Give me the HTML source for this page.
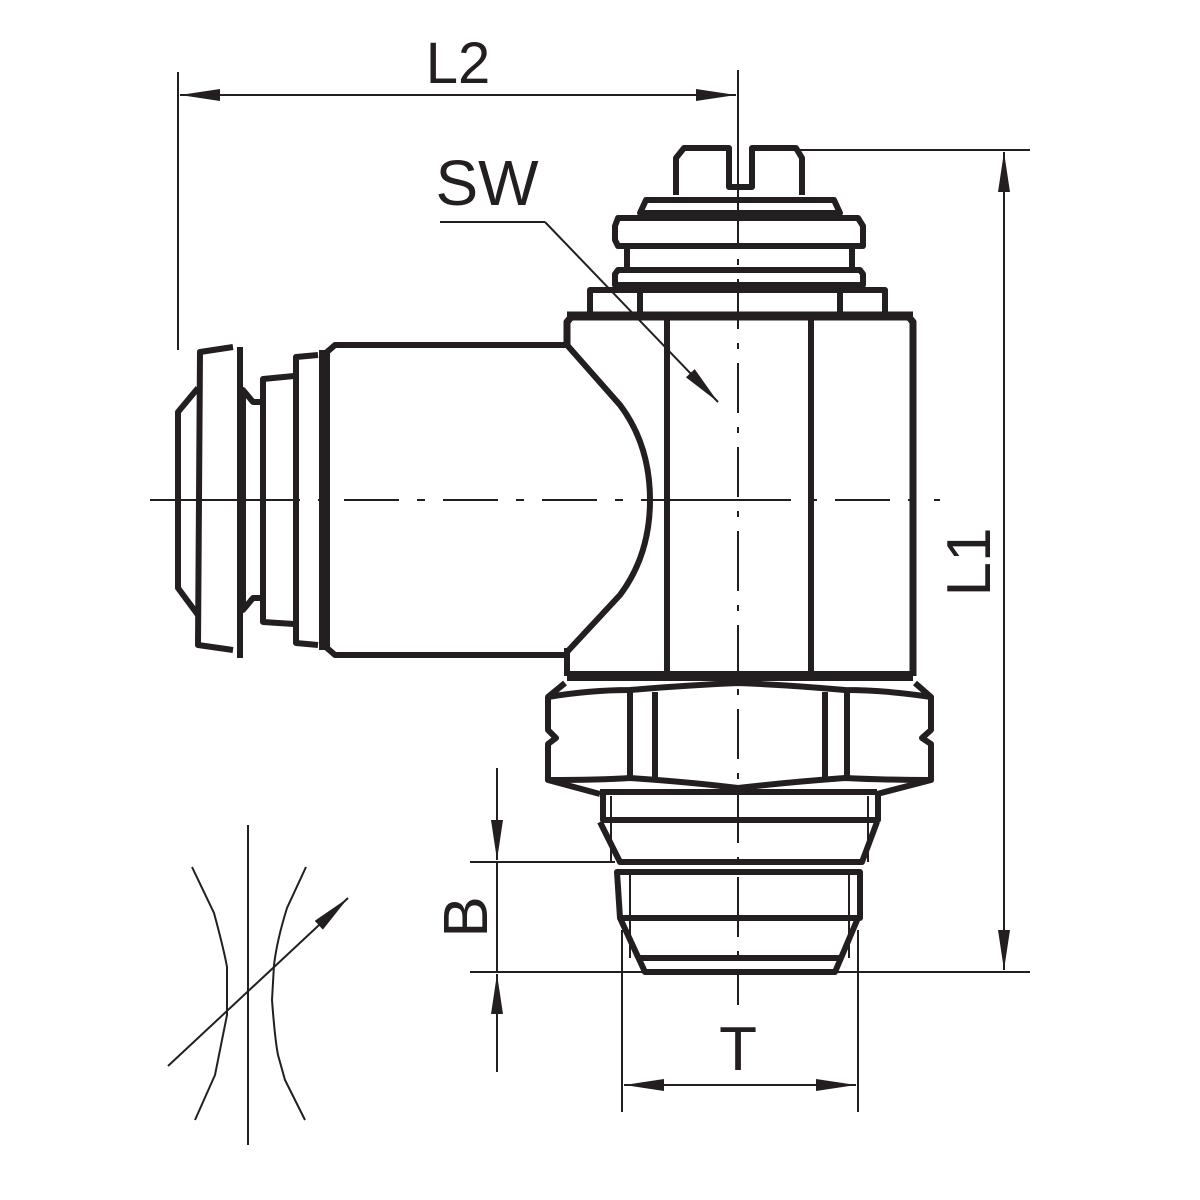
<!DOCTYPE html>
<html><head><meta charset="utf-8"><style>html,body{margin:0;padding:0;background:#fff}svg{display:block}</style></head>
<body>
<svg width="1200" height="1200" viewBox="0 0 1200 1200" xmlns="http://www.w3.org/2000/svg">
<defs>
<marker id="a" viewBox="0 0 40 12" refX="40" refY="6" markerWidth="40" markerHeight="12" markerUnits="userSpaceOnUse" orient="auto-start-reverse"><path d="M0,0 L40,6 L0,12 Z" fill="#231f20"/></marker>
</defs>
<g fill="none" stroke="#231f20">
<g stroke-width="2">
<line x1="178" y1="72" x2="178" y2="350"/>
<line x1="738" y1="70" x2="738" y2="185"/>
<line x1="180" y1="95" x2="736" y2="95" marker-start="url(#a)" marker-end="url(#a)"/>
<line x1="800" y1="150" x2="1030" y2="150"/>
<line x1="1004" y1="152" x2="1004" y2="970" marker-start="url(#a)" marker-end="url(#a)"/>
<line x1="470" y1="862" x2="615" y2="862"/>
<line x1="470" y1="972" x2="1030" y2="972"/>
<line x1="497" y1="768" x2="497" y2="860" marker-end="url(#a)"/>
<line x1="497" y1="862" x2="497" y2="972"/>
<line x1="497" y1="1072" x2="497" y2="974" marker-end="url(#a)"/>
<line x1="622" y1="930" x2="622" y2="1112"/>
<line x1="858" y1="930" x2="858" y2="1112"/>
<line x1="624" y1="1085" x2="856" y2="1085" marker-start="url(#a)" marker-end="url(#a)"/>
<polyline points="440,222 545,222"/>
<line x1="545" y1="222" x2="718" y2="402" marker-end="url(#a)"/>
<line x1="150" y1="500" x2="940" y2="500" stroke-dasharray="150,18,8,18,55,18,8,18,55,18,8,18,55,18,8,18"/>
<line x1="738" y1="185" x2="738" y2="1005" stroke-dasharray="60,14,6,14,50,14,6,14,50,14,6,14,50,14,6,14"/>
<line x1="248" y1="825" x2="248" y2="1145"/>
<path d="M192,867 L214,913 Q224,950 227,967 L227,1015 Q220,1050 215,1075 L195,1120"/>
<path d="M306,867 L287,908 Q277,940 274,965 L272,1000 Q275,1040 278,1055 L285,1080 L305,1120"/>
<line x1="168" y1="1066" x2="348" y2="898" marker-end="url(#a)"/>
</g>
<g stroke-width="6" stroke-linejoin="round">
<path d="M676,195 L676,158 L684,148 L729,148 L729,187 L752,187 L752,148 L796,148 L802,158 L802,195"/>
<path d="M640,213 L646,200 L834,200 L840,213 Z"/>
<path d="M618,218 L858,218 L863,226 L863,246 L618,246 L615,240 L615,226 Z"/>
<line x1="627" y1="248" x2="627" y2="270"/><line x1="852" y1="248" x2="852" y2="270"/>
<path d="M618,270 L860,270 L863,274 L863,285 L615,285 L615,274 Z"/>
<path d="M590,312 L590,290 L885,290 L885,312"/>
<line x1="640" y1="290" x2="640" y2="312"/><line x1="840" y1="290" x2="840" y2="312"/>
<path d="M567,345 L567,322 L572,316 L908,316 L913,322 L913,676" stroke-width="7"/>
<line x1="567" y1="316" x2="913" y2="316" stroke-width="9"/>
<line x1="667" y1="320" x2="667" y2="675"/>
<line x1="811" y1="320" x2="811" y2="675"/>
<path d="M567,345 L620,405 Q650,445 650,500 Q650,555 620,595 L567,652"/>
<line x1="567" y1="648" x2="567" y2="676"/>
<path d="M567,345 L335,345 L327,352 L327,648 L335,655 L567,655"/>
<line x1="323" y1="350" x2="323" y2="650" stroke-width="8"/>
<path d="M318,355 L296,357 L296,643 L318,645"/>
<path d="M294,376 L263,379 L263,622 L294,624"/>
<path d="M261,402 L253,402 L243,390 L243,610 L253,598 L261,598"/>
<path d="M240,347 L240,658"/>
<path d="M233,347 L200,352 L198,645 L233,650"/>
<path d="M198,388 L178,412 L178,588 L198,615"/>
<path d="M567,676 L913,676" stroke-width="10"/>
<path d="M565,683 L548,697 L548,730 L556,738 L548,744 L548,780 L600,794"/>
<path d="M915,683 L931,697 L931,730 L922,738 L931,744 L931,780 L877,794"/>
<path d="M548,697 Q590,690 630,690 Q690,685 738,683 Q790,685 845,690 Q885,690 931,697"/>
<path d="M548,780 Q600,780 630,778 Q690,782 738,788 Q790,782 845,778 Q885,780 931,780"/>
<line x1="630" y1="692" x2="630" y2="780"/><line x1="655" y1="692" x2="655" y2="780"/>
<line x1="825" y1="692" x2="825" y2="780"/><line x1="847" y1="692" x2="847" y2="780"/>
<path d="M600,792 L877,792"/>
<path d="M603,794 L603,820 L878,820 L878,794"/>
<path d="M600,822 L620,862 L862,862 L877,822"/>
<path d="M617,872 L620,918 L860,918 L860,872 Z"/>
<path d="M620,918 L645,972 L835,972 L858,918"/>
<line x1="640" y1="958" x2="840" y2="958"/>
</g>
<g stroke-width="2">
<line x1="611" y1="796" x2="611" y2="862"/><line x1="868" y1="796" x2="868" y2="862"/>
<line x1="630" y1="872" x2="630" y2="958"/><line x1="849" y1="872" x2="849" y2="958"/>
</g>
</g>
<g fill="#231f20" font-family="Liberation Sans, sans-serif">
<text x="458" y="83" font-size="58" text-anchor="middle">L2</text>
<text x="487" y="205" font-size="64" text-anchor="middle">SW</text>
<text x="738" y="1070" font-size="62" text-anchor="middle">T</text>
<text transform="translate(487,917) rotate(-90)" font-size="62" text-anchor="middle">B</text>
<text transform="translate(990,562) rotate(-90)" font-size="62" text-anchor="middle">L1</text>
</g>
</svg>
</body></html>
